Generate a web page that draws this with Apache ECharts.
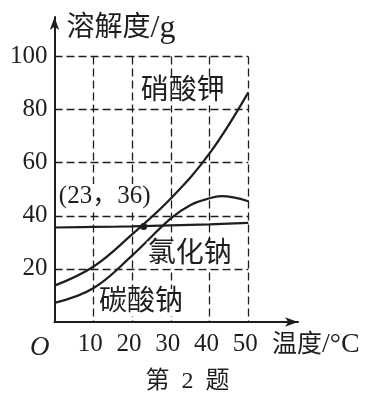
<!DOCTYPE html>
<html>
<head>
<meta charset="utf-8">
<script src="https://cdn.jsdelivr.net/npm/echarts@6/dist/echarts.min.js"></script>
<style>
html,body{margin:0;padding:0;background:#fff;}
#c{width:375px;height:399px;}
</style>
</head>
<body>
<div id="c"></div>
<script>
// ---- data ----
const temps = [0, 10, 20, 30, 40, 50];
const kno3 = [13.7, 20.8, 33, 46.5, 63.5, 86.5];
const nacl = [35.6, 35.8, 36.0, 36.4, 36.8, 37.3];
const na2co3Temps = [0, 10, 20, 30, 35, 40, 43, 50];
const na2co3 = [7.2, 12.7, 25, 39, 44, 46.6, 47.4, 45.5];
const xTicks = [10, 20, 30, 40, 50];
const yTicks = [20, 40, 60, 80, 100];
const crossPoint = [23, 36];
const names = { kno3: '硝酸钾', nacl: '氯化钠', na2co3: '碳酸钠' };

const ink = '#1e1e1e';
const serif = '"Liberation Serif","Noto Sans CJK SC",serif';
const cjk = '"Liberation Serif","Noto Sans CJK SC",sans-serif';

function pairs(xs, ys) { return xs.map((x, i) => [x, ys[i]]); }

const textLabel = (txt) => ({
  show: true, position: 'right', distance: 0, formatter: txt,
  fontFamily: cjk, fontSize: 28, color: ink, backgroundColor: '#fff', padding: [0, 1, 0, 1], lineHeight: 27
});

const chart = echarts.init(document.getElementById('c'), null, { renderer: 'canvas' });
chart.setOption({
  animation: false,
  backgroundColor: '#fff',
  title: [
    { text: 'O', left: 25, top: 329, textStyle: { fontFamily: serif, fontStyle: 'italic', fontWeight: 'normal', fontSize: 27, color: ink } },
    { text: '第\u20022\u2002题', left: 'center', top: 365, textStyle: { fontFamily: cjk, fontWeight: 'normal', fontSize: 24, color: ink } }
  ],
  grid: [
    { left: 54.5, top: 56.5, right: 126.7, bottom: 77, outerBoundsMode: 'none', containLabel: false },
    { left: 54.5, top: 17, right: 77, bottom: 77, outerBoundsMode: 'none', containLabel: false }
  ],
  xAxis: [
    {
      type: 'value', gridIndex: 0, min: 0, max: 50, interval: 10,
      axisLine: { show: false }, axisTick: { show: false },
      splitLine: { show: true, showMinLine: false, lineStyle: { color: ink, width: 1.3, type: [8, 4] } },
      axisLabel: {
        show: true, showMinLabel: false, margin: 10, fontFamily: serif, fontSize: 25, color: ink,
        padding: [0, 6, 0, 0],
        formatter: (v) => (xTicks.includes(v) ? String(v) : '')
      }
    },
    {
      type: 'value', gridIndex: 1, min: 0, max: 1,
      axisLine: { show: true, lineStyle: { color: ink, width: 2 }, symbol: ['none', 'arrow'], symbolSize: [7, 13] },
      axisTick: { show: false }, axisLabel: { show: false }, splitLine: { show: false },
      name: '{a|温度}{b|/°C}', nameLocation: 'end', nameGap: -26, nameMoveOverlap: false,
      nameTextStyle: {
        fontFamily: cjk, fontSize: 25, color: ink, align: 'left', verticalAlign: 'top', padding: [9, 0, 0, 0],
        rich: {
          a: { fontFamily: cjk, fontSize: 25, color: ink },
          b: { fontFamily: serif, fontSize: 28, color: ink }
        }
      }
    }
  ],
  yAxis: [
    {
      type: 'value', gridIndex: 0, min: 0, max: 100, interval: 20,
      axisLine: { show: false }, axisTick: { show: false },
      splitLine: { show: true, showMinLine: false, lineStyle: { color: ink, width: 1.3, type: [8, 4] } },
      axisLabel: {
        show: true, showMinLabel: false, margin: 7, fontFamily: serif, fontSize: 25, color: ink,
        formatter: (v) => (yTicks.includes(v) ? String(v) : '')
      }
    },
    {
      type: 'value', gridIndex: 1, min: 0, max: 1,
      axisLine: { show: true, lineStyle: { color: ink, width: 2 }, symbol: ['none', 'arrow'], symbolSize: [7, 13] },
      axisTick: { show: false }, axisLabel: { show: false }, splitLine: { show: false },
      name: '{a|溶解度}{b|/g}', nameLocation: 'end', nameGap: -12, nameMoveOverlap: false,
      nameTextStyle: {
        fontFamily: cjk, fontSize: 28, color: ink, align: 'left', verticalAlign: 'middle', padding: [0, 0, 0, 12],
        rich: {
          a: { fontFamily: cjk, fontSize: 28, color: ink },
          b: { fontFamily: serif, fontSize: 32, color: ink }
        }
      }
    }
  ],
  series: [
    {
      name: names.kno3, type: 'line', xAxisIndex: 0, yAxisIndex: 0, smooth: 0.4,
      data: pairs(temps, kno3), showSymbol: false, lineStyle: { color: ink, width: 2.2 }, z: 3,
      markPoint: { symbol: 'circle', symbolSize: 0, silent: true, data: [{ coord: [22, 86.6], label: textLabel(names.kno3) }] }
    },
    {
      name: names.nacl, type: 'line', xAxisIndex: 0, yAxisIndex: 0, smooth: 0.4,
      data: pairs(temps, nacl), showSymbol: false, lineStyle: { color: ink, width: 2.2 }, z: 3,
      markPoint: { symbol: 'circle', symbolSize: 0, silent: true, data: [{ coord: [23.8, 25.2], label: textLabel(names.nacl) }] }
    },
    {
      name: names.na2co3, type: 'line', xAxisIndex: 0, yAxisIndex: 0, smooth: 0.4,
      data: pairs(na2co3Temps, na2co3), showSymbol: false, lineStyle: { color: ink, width: 2.2 }, z: 3,
      markPoint: { symbol: 'circle', symbolSize: 0, silent: true, data: [{ coord: [11.2, 7.3], label: textLabel(names.na2co3) }] }
    },
    {
      type: 'scatter', xAxisIndex: 0, yAxisIndex: 0, z: 4,
      data: [crossPoint], symbolSize: 7, itemStyle: { color: ink, opacity: 1 },
      label: {
        show: true, position: 'top', distance: 5, offset: [-39, -9], opacity: 1,
        formatter: () => '(' + crossPoint[0] + '，' + crossPoint[1] + ')',
        fontFamily: serif, fontSize: 25, color: ink, backgroundColor: '#fff', padding: [0, 1, 0, 1]
      }
    }
  ]
});
</script>
</body>
</html>
